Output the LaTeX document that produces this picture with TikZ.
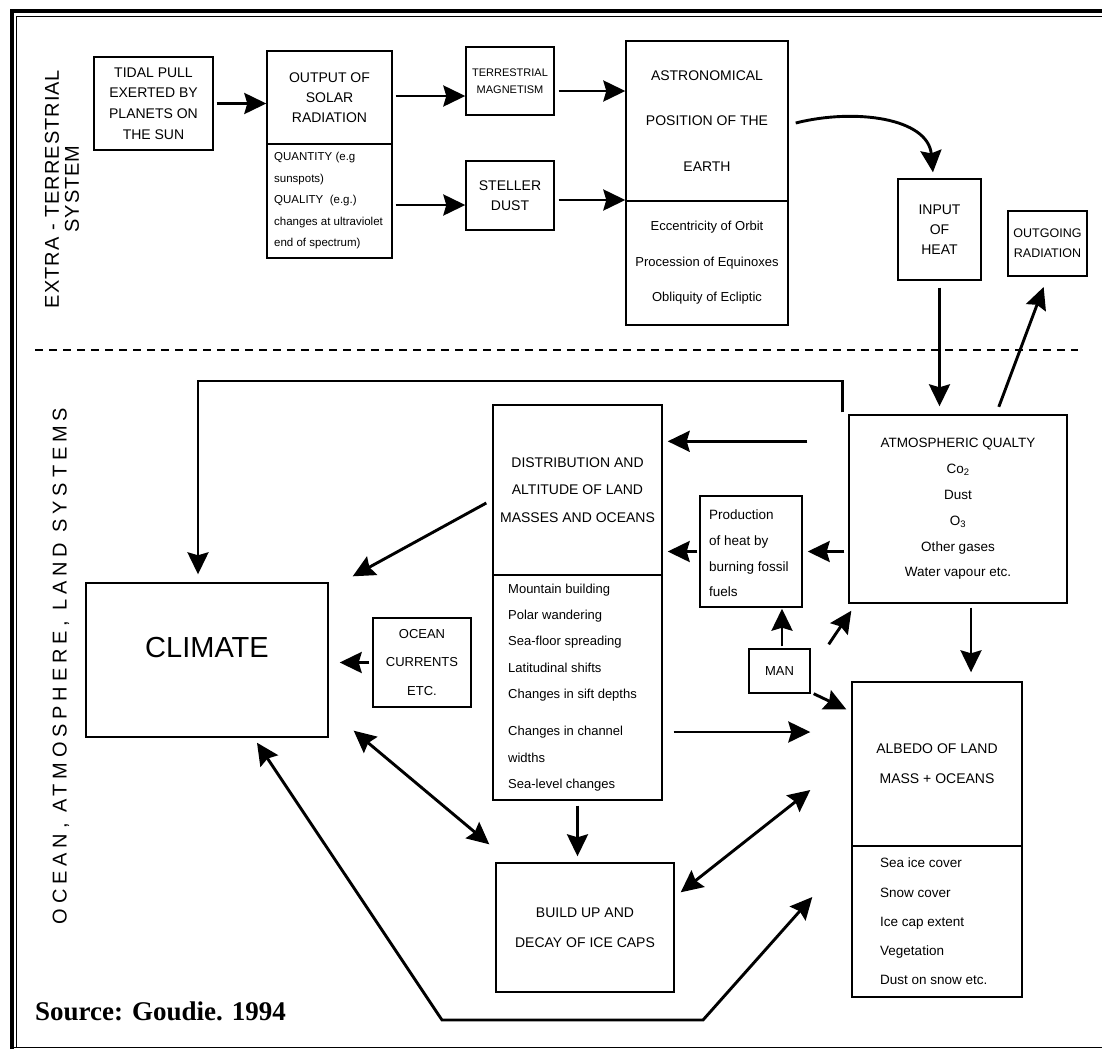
\documentclass[tikz,border=0pt]{standalone}
\usepackage{fontspec}
\setmainfont{Liberation Sans}
\newfontfamily\srcfont{Liberation Serif}
\usetikzlibrary{arrows.meta}
\newcommand\fs[2]{\fontsize{#1}{#2}\selectfont}
\begin{document}
\begin{tikzpicture}[x=1pt,y=-1pt,
 box/.style={draw, line width=1.4pt, inner sep=0pt, align=center},
 bigtip/.tip={Stealth[length=22pt,width=21pt,inset=3pt]},
 arr/.style={line width=2.9pt, -bigtip},
 darr/.style={line width=2.9pt, bigtip-bigtip},
 lbl/.style={inner sep=0pt, align=left, anchor=west},
]
\useasboundingbox (0,0) rectangle (1102,1050);
\fill[white] (0,0) rectangle (1102,1050);
% frame
\draw[line width=4pt] (12,1049) -- (12,11) -- (1102,11);
\draw[line width=1pt] (16.5,1047) -- (16.5,16.5) -- (1102,16.5);
\draw[line width=1.2pt] (10,1047.5) -- (1102,1047.5);
\draw[line width=1.3pt, dash pattern=on 8pt off 6pt] (35,350) -- (1078,350);

% side labels
\node[rotate=90, align=center, inner sep=0pt, font=\fs{20}{20}\addfontfeature{LetterSpace=5}] (ext) at (62,189) {EXTRA - TERRESTRIAL\\SYSTEM};
\node[rotate=90, inner sep=0pt, font=\fs{20}{20}\addfontfeature{LetterSpace=24}] (oal) at (61,666) {OCEAN, ATMOSPHERE, LAND SYSTEMS};

% top system
\node[box, minimum width=119pt, minimum height=93pt, font=\fs{14}{20.7}] (tidal) at (153.5,103.5) {TIDAL PULL\\EXERTED BY\\PLANETS ON\\THE SUN};
\node[box, minimum width=125pt, minimum height=93pt, font=\fs{14}{20}] (outU) at (329.5,97.5) {OUTPUT OF\\SOLAR\\RADIATION};
\node[box, minimum width=125pt, minimum height=114pt] (outL) at (329.5,201) {};
\node[lbl, font=\fs{11.5}{21.5}] (outT) at (274,201) {QUANTITY (e.g\\sunspots)\\QUALITY\ \ (e.g.)\\changes at ultraviolet\\end of spectrum)};
\node[box, minimum width=88pt, minimum height=68pt, font=\fs{11}{16.5}] (tm) at (510,81) {TERRESTRIAL\\MAGNETISM};
\node[box, minimum width=88pt, minimum height=69pt, font=\fs{14}{19.5}] (sd) at (510,195.5) {STELLER\\DUST};
\node[box, minimum width=162pt, minimum height=160pt, font=\fs{14}{45.5}] (astU) at (707,121) {ASTRONOMICAL\\POSITION OF THE\\EARTH};
\node[box, minimum width=162pt, minimum height=124pt, font=\fs{13}{35.5}] (astL) at (707,263) {Eccentricity of Orbit\\Procession of Equinoxes\\Obliquity of Ecliptic};
\node[box, minimum width=83pt, minimum height=101pt, font=\fs{14}{20}] (heat) at (939.5,229.5) {INPUT\\OF\\HEAT};
\node[box, minimum width=79pt, minimum height=65pt, font=\fs{12.5}{20}] (outg) at (1047.5,243.5) {OUTGOING\\RADIATION};

% lower system
\node[box, minimum width=218pt, minimum height=188pt, font=\fs{13.5}{25.8}] (atm) at (958,509) {ATMOSPHERIC QUALTY\\Co\textsubscript{2}\\Dust\\O\textsubscript{3}\\Other gases\\Water vapour etc.};
\node[box, minimum width=169pt, minimum height=170pt, font=\fs{14}{27.5}] (distU) at (577.5,490) {DISTRIBUTION AND\\ALTITUDE OF LAND\\MASSES AND OCEANS};
\node[box, minimum width=169pt, minimum height=225pt] (distL) at (577.5,687.5) {};
\node[lbl, font=\fs{13}{26.3}] (distT) at (508,687.5) {Mountain building\\Polar wandering\\Sea-floor spreading\\Latitudinal shifts\\Changes in sift depths\\[11pt]Changes in channel\\widths\\Sea-level changes};
\node[box, minimum width=102pt, minimum height=111pt] (prod) at (751,551.5) {};
\node[lbl, font=\fs{13.5}{25.7}] (prodT) at (709,553.5) {Production\\of heat by\\burning fossil\\fuels};
\node[box, minimum width=61pt, minimum height=44pt, font=\fs{13}{16}] (man) at (779.5,671) {MAN};
\node[box, minimum width=98pt, minimum height=89pt, font=\fs{13}{28.5}] (ocean) at (422,662.5) {OCEAN\\CURRENTS\\ETC.};
\node[box, minimum width=242pt, minimum height=154pt] (clim) at (207,660) {};
\node[inner sep=0pt, font=\fs{29}{34}] (climT) at (207,648) {CLIMATE};
\node[box, minimum width=170pt, minimum height=164pt, font=\fs{14}{30}] (albU) at (937,764) {ALBEDO OF LAND\\MASS + OCEANS};
\node[box, minimum width=170pt, minimum height=151pt] (albL) at (937,921.5) {};
\node[lbl, font=\fs{13.5}{29.25}] (albT) at (880,921.5) {Sea ice cover\\Snow cover\\Ice cap extent\\Vegetation\\Dust on snow etc.};
\node[box, minimum width=178pt, minimum height=129pt, font=\fs{14}{30}] (ice) at (585,927.5) {BUILD UP AND\\DECAY OF ICE CAPS};
\node[anchor=base west, inner sep=0pt, font=\srcfont\bfseries\fs{27}{30}] (src) at (35,1020) {Source: Goudie. 1994};

% connectors, top
\draw[arr, shorten <=3pt] (tidal.east) -- (tidal.east -| outU.west);
\draw[arr, shorten <=3pt] ([yshift=1.5pt]outU.east) -- ([yshift=1.5pt]outU.east -| tm.west);
\draw[arr, shorten <=3pt] ([yshift=-4pt]outL.east) -- ([yshift=-4pt]outL.east -| sd.west);
\draw[arr, shorten <=4pt] ([yshift=-10pt]tm.east) -- ([yshift=-10pt]tm.east -| astU.west);
\draw[arr, shorten <=4pt] ([yshift=-4.5pt]sd.east) -- ([yshift=-4.5pt]sd.east -| astL.west);
\draw[arr, shorten >=6pt] ([xshift=7pt,yshift=-2pt]astU.east) .. controls (855,108) and (928,118) .. ([xshift=-6pt]heat.north);
\draw[arr, shorten <=7pt, shorten >=8pt] (heat.south) -- (heat.south |- atm.north);
\draw[arr, shorten <=8pt, shorten >=11pt] ([xshift=38pt]atm.north) -- (outg.south);

% connectors, lower
\coordinate (Lc) at (198,381);
\draw[arr, shorten >=8pt] ([xshift=-6pt,yshift=2pt]atm.north west) |- (Lc) -- (Lc |- clim.north);
\draw[arr, shorten <=41pt, shorten >=5pt] ([yshift=-27pt]atm.north west) -- ([yshift=-27pt]atm.north west -| distU.east);
\draw[arr, shorten <=4pt, shorten >=5pt] (atm.west |- prod.east) -- (prod.east);
\draw[arr, shorten <=2pt, shorten >=5pt] (prod.west) -- (prod.west -| distU.east);
\draw[arr, shorten <=2pt, shorten >=1pt] ([xshift=2.5pt]man.north) -- ([xshift=2.5pt]man.north |- prod.south);
\draw[arr] ([xshift=18pt,yshift=4pt]man.north east) -- ([xshift=3pt,yshift=-7pt]atm.south west);
\draw[arr] ([xshift=3pt]man.south east) -- ([xshift=-5pt,yshift=-28pt]albU.north west);
\draw[arr, shorten <=4pt, shorten >=9pt] ([xshift=13pt]atm.south) -- ([xshift=13pt]atm.south |- albU.north);
\draw[arr] ([xshift=-6pt,yshift=-13pt]distU.west) -- ([xshift=24pt,yshift=6pt]clim.north east);
\draw[arr, shorten <=3pt, shorten >=11pt] (ocean.west) -- (ocean.west -| clim.east);
\draw[darr] ([xshift=25pt,yshift=7pt]clim.south east) -- ([xshift=-6pt,yshift=18pt]ice.north west);
\draw[arr, shorten <=11pt, shorten >=41pt] ([yshift=-44.5pt]distL.east) -- ([yshift=-44.5pt]distL.east -| albU.west);
\draw[arr, shorten <=5pt, shorten >=6pt] (distL.south) -- (distL.south |- ice.north);
\draw[darr] ([xshift=6pt,yshift=-30pt]ice.north east) -- ([xshift=-41pt,yshift=-26pt]albU.west);
\coordinate (c1) at (442,1020);
\coordinate (c2) at (703,1020);
\draw[darr] ([xshift=50pt,yshift=-5pt]clim.south) -- (c1) -- (c2) -- ([xshift=-39pt,yshift=24.5pt]albL.west);
\end{tikzpicture}
\end{document}
